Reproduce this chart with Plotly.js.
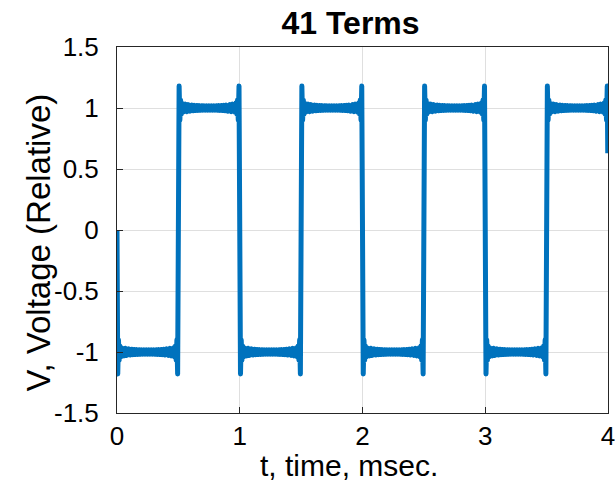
<!DOCTYPE html>
<html>
<head>
<meta charset="utf-8">
<script src="https://cdn.plot.ly/plotly-3.0.1.min.js"></script>
<style>
  html, body { margin: 0; padding: 0; background: #fff; }
  #chart { width: 615px; height: 495px; }
  path.js-line { stroke-linejoin: round !important; stroke-linecap: butt !important; }
</style>
</head>
<body>
<div id="chart"></div>
<script>
// Time samples, msec (one row per half period)
const timeMs = [
  0, 0.002, 0.006, 0.012, 0.018, 0.024, 0.031, 0.037, 0.043, 0.049, 0.058, 0.068, 0.08, 0.095, 0.11, 0.12, 0.13, 0.14, 0.15, 0.16, 0.17, 0.18, 0.19, 0.2, 0.21, 0.22, 0.23, 0.24, 0.25, 0.26, 0.27, 0.28, 0.29, 0.3, 0.31, 0.32, 0.33, 0.34, 0.35, 0.36, 0.37, 0.38, 0.39, 0.405, 0.42, 0.432, 0.442, 0.451, 0.457, 0.463, 0.469, 0.476, 0.482, 0.488, 0.494, 0.498,
  0.5, 0.502, 0.506, 0.512, 0.518, 0.524, 0.531, 0.537, 0.543, 0.549, 0.558, 0.568, 0.58, 0.595, 0.61, 0.62, 0.63, 0.64, 0.65, 0.66, 0.67, 0.68, 0.69, 0.7, 0.71, 0.72, 0.73, 0.74, 0.75, 0.76, 0.77, 0.78, 0.79, 0.8, 0.81, 0.82, 0.83, 0.84, 0.85, 0.86, 0.87, 0.88, 0.89, 0.905, 0.92, 0.932, 0.942, 0.951, 0.957, 0.963, 0.969, 0.976, 0.982, 0.988, 0.994, 0.998,
  1, 1.002, 1.006, 1.012, 1.018, 1.024, 1.031, 1.037, 1.043, 1.049, 1.058, 1.068, 1.08, 1.095, 1.11, 1.12, 1.13, 1.14, 1.15, 1.16, 1.17, 1.18, 1.19, 1.2, 1.21, 1.22, 1.23, 1.24, 1.25, 1.26, 1.27, 1.28, 1.29, 1.3, 1.31, 1.32, 1.33, 1.34, 1.35, 1.36, 1.37, 1.38, 1.39, 1.405, 1.42, 1.432, 1.442, 1.451, 1.457, 1.463, 1.469, 1.476, 1.482, 1.488, 1.494, 1.498,
  1.5, 1.502, 1.506, 1.512, 1.518, 1.524, 1.531, 1.537, 1.543, 1.549, 1.558, 1.568, 1.58, 1.595, 1.61, 1.62, 1.63, 1.64, 1.65, 1.66, 1.67, 1.68, 1.69, 1.7, 1.71, 1.72, 1.73, 1.74, 1.75, 1.76, 1.77, 1.78, 1.79, 1.8, 1.81, 1.82, 1.83, 1.84, 1.85, 1.86, 1.87, 1.88, 1.89, 1.905, 1.92, 1.932, 1.942, 1.951, 1.957, 1.963, 1.969, 1.976, 1.982, 1.988, 1.994, 1.998,
  2, 2.002, 2.006, 2.012, 2.018, 2.024, 2.031, 2.037, 2.043, 2.049, 2.058, 2.068, 2.08, 2.095, 2.11, 2.12, 2.13, 2.14, 2.15, 2.16, 2.17, 2.18, 2.19, 2.2, 2.21, 2.22, 2.23, 2.24, 2.25, 2.26, 2.27, 2.28, 2.29, 2.3, 2.31, 2.32, 2.33, 2.34, 2.35, 2.36, 2.37, 2.38, 2.39, 2.405, 2.42, 2.432, 2.442, 2.451, 2.457, 2.463, 2.469, 2.476, 2.482, 2.488, 2.494, 2.498,
  2.5, 2.502, 2.506, 2.512, 2.518, 2.524, 2.531, 2.537, 2.543, 2.549, 2.558, 2.568, 2.58, 2.595, 2.61, 2.62, 2.63, 2.64, 2.65, 2.66, 2.67, 2.68, 2.69, 2.7, 2.71, 2.72, 2.73, 2.74, 2.75, 2.76, 2.77, 2.78, 2.79, 2.8, 2.81, 2.82, 2.83, 2.84, 2.85, 2.86, 2.87, 2.88, 2.89, 2.905, 2.92, 2.932, 2.942, 2.951, 2.957, 2.963, 2.969, 2.976, 2.982, 2.988, 2.994, 2.998,
  3, 3.002, 3.006, 3.012, 3.018, 3.024, 3.031, 3.037, 3.043, 3.049, 3.058, 3.068, 3.08, 3.095, 3.11, 3.12, 3.13, 3.14, 3.15, 3.16, 3.17, 3.18, 3.19, 3.2, 3.21, 3.22, 3.23, 3.24, 3.25, 3.26, 3.27, 3.28, 3.29, 3.3, 3.31, 3.32, 3.33, 3.34, 3.35, 3.36, 3.37, 3.38, 3.39, 3.405, 3.42, 3.432, 3.442, 3.451, 3.457, 3.463, 3.469, 3.476, 3.482, 3.488, 3.494, 3.498,
  3.5, 3.502, 3.506, 3.512, 3.518, 3.524, 3.531, 3.537, 3.543, 3.549, 3.558, 3.568, 3.58, 3.595, 3.61, 3.62, 3.63, 3.64, 3.65, 3.66, 3.67, 3.68, 3.69, 3.7, 3.71, 3.72, 3.73, 3.74, 3.75, 3.76, 3.77, 3.78, 3.79, 3.8, 3.81, 3.82, 3.83, 3.84, 3.85, 3.86, 3.87, 3.88, 3.89, 3.905, 3.92, 3.932, 3.942, 3.951, 3.957, 3.963, 3.969, 3.976, 3.982, 3.988, 3.994, 3.998
];

// Voltage (relative) (one row per half period)
const voltage = [
  0, -0.63, -1.18, -0.90, -1.066, -0.95, -1.04, -0.966, -1.03, -0.972, -1.032, -0.970, -1.028, -0.974, -1.024, -0.977, -1.022, -0.979, -1.021, -0.980, -1.020, -0.981, -1.019, -0.982, -1.018, -0.982, -1.018, -0.982, -1.018, -0.982, -1.018, -0.982, -1.018, -0.982, -1.019, -0.981, -1.020, -0.980, -1.021, -0.979, -1.022, -0.977, -1.024, -0.974, -1.028, -0.970, -1.032, -0.972, -1.03, -0.966, -1.04, -0.95, -1.066, -0.90, -1.18, -0.63,
  0, 0.63, 1.18, 0.90, 1.066, 0.95, 1.04, 0.966, 1.03, 0.972, 1.032, 0.970, 1.028, 0.974, 1.024, 0.977, 1.022, 0.979, 1.021, 0.980, 1.020, 0.981, 1.019, 0.982, 1.018, 0.982, 1.018, 0.982, 1.018, 0.982, 1.018, 0.982, 1.018, 0.982, 1.019, 0.981, 1.020, 0.980, 1.021, 0.979, 1.022, 0.977, 1.024, 0.974, 1.028, 0.970, 1.032, 0.972, 1.03, 0.966, 1.04, 0.95, 1.066, 0.90, 1.18, 0.63,
  0, -0.63, -1.18, -0.90, -1.066, -0.95, -1.04, -0.966, -1.03, -0.972, -1.032, -0.970, -1.028, -0.974, -1.024, -0.977, -1.022, -0.979, -1.021, -0.980, -1.020, -0.981, -1.019, -0.982, -1.018, -0.982, -1.018, -0.982, -1.018, -0.982, -1.018, -0.982, -1.018, -0.982, -1.019, -0.981, -1.020, -0.980, -1.021, -0.979, -1.022, -0.977, -1.024, -0.974, -1.028, -0.970, -1.032, -0.972, -1.03, -0.966, -1.04, -0.95, -1.066, -0.90, -1.18, -0.63,
  0, 0.63, 1.18, 0.90, 1.066, 0.95, 1.04, 0.966, 1.03, 0.972, 1.032, 0.970, 1.028, 0.974, 1.024, 0.977, 1.022, 0.979, 1.021, 0.980, 1.020, 0.981, 1.019, 0.982, 1.018, 0.982, 1.018, 0.982, 1.018, 0.982, 1.018, 0.982, 1.018, 0.982, 1.019, 0.981, 1.020, 0.980, 1.021, 0.979, 1.022, 0.977, 1.024, 0.974, 1.028, 0.970, 1.032, 0.972, 1.03, 0.966, 1.04, 0.95, 1.066, 0.90, 1.18, 0.63,
  0, -0.63, -1.18, -0.90, -1.066, -0.95, -1.04, -0.966, -1.03, -0.972, -1.032, -0.970, -1.028, -0.974, -1.024, -0.977, -1.022, -0.979, -1.021, -0.980, -1.020, -0.981, -1.019, -0.982, -1.018, -0.982, -1.018, -0.982, -1.018, -0.982, -1.018, -0.982, -1.018, -0.982, -1.019, -0.981, -1.020, -0.980, -1.021, -0.979, -1.022, -0.977, -1.024, -0.974, -1.028, -0.970, -1.032, -0.972, -1.03, -0.966, -1.04, -0.95, -1.066, -0.90, -1.18, -0.63,
  0, 0.63, 1.18, 0.90, 1.066, 0.95, 1.04, 0.966, 1.03, 0.972, 1.032, 0.970, 1.028, 0.974, 1.024, 0.977, 1.022, 0.979, 1.021, 0.980, 1.020, 0.981, 1.019, 0.982, 1.018, 0.982, 1.018, 0.982, 1.018, 0.982, 1.018, 0.982, 1.018, 0.982, 1.019, 0.981, 1.020, 0.980, 1.021, 0.979, 1.022, 0.977, 1.024, 0.974, 1.028, 0.970, 1.032, 0.972, 1.03, 0.966, 1.04, 0.95, 1.066, 0.90, 1.18, 0.63,
  0, -0.63, -1.18, -0.90, -1.066, -0.95, -1.04, -0.966, -1.03, -0.972, -1.032, -0.970, -1.028, -0.974, -1.024, -0.977, -1.022, -0.979, -1.021, -0.980, -1.020, -0.981, -1.019, -0.982, -1.018, -0.982, -1.018, -0.982, -1.018, -0.982, -1.018, -0.982, -1.018, -0.982, -1.019, -0.981, -1.020, -0.980, -1.021, -0.979, -1.022, -0.977, -1.024, -0.974, -1.028, -0.970, -1.032, -0.972, -1.03, -0.966, -1.04, -0.95, -1.066, -0.90, -1.18, -0.63,
  0, 0.63, 1.18, 0.90, 1.066, 0.95, 1.04, 0.966, 1.03, 0.972, 1.032, 0.970, 1.028, 0.974, 1.024, 0.977, 1.022, 0.979, 1.021, 0.980, 1.020, 0.981, 1.019, 0.982, 1.018, 0.982, 1.018, 0.982, 1.018, 0.982, 1.018, 0.982, 1.018, 0.982, 1.019, 0.981, 1.020, 0.980, 1.021, 0.979, 1.022, 0.977, 1.024, 0.974, 1.028, 0.970, 1.032, 0.972, 1.03, 0.966, 1.04, 0.95, 1.066, 0.90, 1.18, 0.63
];

const xTickVals = [0, 1, 2, 3, 4];
const xTickText = ['0', '1', '2', '3', '4'];
const yTickVals = [-1.5, -1, -0.5, 0, 0.5, 1, 1.5];
const yTickText = ['-1.5', '-1', '-0.5', '0', '0.5', '1', '1.5'];

const chartTitle = '<b>41 Terms</b>';
const xTitle = 't, time, msec.';
const yTitle = 'V, Voltage (Relative)';

const font = 'Liberation Sans, Arial, Helvetica, sans-serif';

const trace = {
  x: timeMs,
  y: voltage,
  type: 'scatter',
  mode: 'lines',
  line: { color: '#0072BD', width: 5 },
  hoverinfo: 'skip'
};

const axisCommon = {
  showline: true,
  linecolor: '#262626',
  linewidth: 1,
  mirror: true,
  ticks: 'inside',
  ticklen: 6,
  tickwidth: 1,
  tickcolor: '#262626',
  showgrid: true,
  gridcolor: '#dfdfdf',
  gridwidth: 1,
  zeroline: false,
  automargin: false,
  tickfont: { family: font, size: 26, color: '#000' }
};

const layout = {
  width: 615,
  height: 495,
  margin: { l: 117, r: 7, t: 47, b: 82, pad: 0 },
  paper_bgcolor: '#fff',
  plot_bgcolor: '#fff',
  showlegend: false,
  title: {
    text: chartTitle,
    font: { family: font, size: 32, color: '#000' },
    x: 350.5 / 615,
    xref: 'container',
    xanchor: 'center',
    y: 1 - 23 / 495,
    yref: 'container',
    yanchor: 'middle'
  },
  xaxis: Object.assign({}, axisCommon, {
    range: [0, 4],
    tickvals: xTickVals,
    ticktext: xTickText,
    ticklabelstandoff: 0,
    ticklabeloverflow: 'allow'
  }),
  yaxis: Object.assign({}, axisCommon, {
    range: [-1.5, 1.5],
    tickvals: yTickVals,
    ticktext: yTickText,
    ticklabelstandoff: 12
  }),
  annotations: [
    {
      text: xTitle,
      xref: 'paper', yref: 'paper',
      x: (349 - 117) / 491, y: -(484 - 413) / 366,
      xanchor: 'center', yanchor: 'bottom',
      showarrow: false,
      font: { family: font, size: 30, color: '#000' }
    },
    {
      text: yTitle,
      textangle: -90,
      xref: 'paper', yref: 'paper',
      x: -(117 - 38.5) / 491, y: (413 - 243) / 366,
      xanchor: 'center', yanchor: 'middle',
      showarrow: false,
      font: { family: font, size: 33, color: '#000' }
    }
  ]
};

Plotly.newPlot('chart', [trace], layout, { staticPlot: true, displayModeBar: false });
</script>
</body>
</html>
